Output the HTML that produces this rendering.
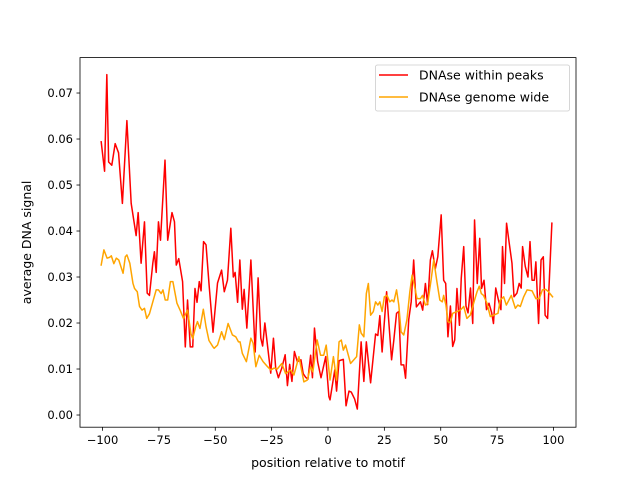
<!DOCTYPE html>
<html><head><meta charset="utf-8"><style>
html,body{margin:0;padding:0;background:#fff;}
svg{display:block;font-family:"DejaVu Sans","Liberation Sans",sans-serif;}
</style></head><body>
<svg id="chart" width="640" height="480" viewBox="0 0 640 480">
<rect x="0" y="0" width="640" height="480" fill="#fff"/>
<g id="plot"></g>
</svg>
<script>
const redPos=[-100.6,-99.1,-98.1,-97.3,-95.9,-94.4,-92.9,-91.2,-89.2,-87.3,-85.1,-84.2,-82.9,-81.4,-80.2,-79.2,-77.7,-77,-76.2,-75.2,-74.3,-72.3,-71.1,-69.2,-68.1,-67.3,-66.2,-64.5,-63.3,-62.3,-61.1,-60,-59,-58.1,-57.1,-56.3,-55.2,-54.1,-52.7,-51,-49,-47.2,-46,-44.6,-43.1,-42,-41.2,-40.1,-39.1,-38,-37.2,-36,-34.2,-32.3,-31,-29.8,-29,-28,-25.4,-24.2,-23.2,-22,-20.5,-19,-18,-17,-16,-14.9,-13.6,-12,-11,-9.9,-8.9,-7.7,-6.9,-6,-4.6,-3.1,-1,0.4,0.9,3,3.8,4.9,6.8,8,9.3,10.3,11.8,13,14.7,15.9,17,18.9,21.1,22.1,23,24,26,28.2,29.2,30.4,31.4,32.4,33.6,34.4,35.8,36.9,38,39.2,41,42,43.2,44.2,45.4,46.3,47.6,48.7,50.2,51.3,52.2,53.2,54.3,55.3,56.2,57.2,58.3,59.1,60.2,61.2,62.1,63.2,64.2,65,66.2,67.3,68.1,69.2,70.3,71.4,72.6,73.4,74.4,75.6,76.7,77.4,78.3,79.2,80.4,81.6,82.5,83.8,84.8,85.7,86.3,87.5,88.7,89.6,90.5,91.5,92.2,93.4,94.5,95.5,96.3,97.4,99.3];
const redVals=[0.0594,0.053,0.074,0.055,0.0543,0.059,0.057,0.046,0.064,0.046,0.039,0.044,0.033,0.042,0.0265,0.026,0.033,0.0355,0.031,0.042,0.038,0.0554,0.038,0.044,0.042,0.0326,0.034,0.029,0.0148,0.025,0.0148,0.0148,0.0275,0.0245,0.029,0.027,0.0377,0.037,0.028,0.018,0.0287,0.0315,0.0268,0.0293,0.0406,0.030,0.031,0.0245,0.0337,0.023,0.0273,0.0189,0.0337,0.0137,0.0298,0.0167,0.015,0.020,0.0091,0.0167,0.0102,0.0081,0.0102,0.0131,0.0064,0.011,0.0073,0.0138,0.0116,0.012,0.009,0.0082,0.0078,0.013,0.0081,0.0189,0.0116,0.0081,0.0127,0.004,0.0033,0.0098,0.0052,0.0118,0.0121,0.002,0.0052,0.005,0.0035,0.0013,0.0159,0.0073,0.0159,0.007,0.0176,0.0173,0.0216,0.0137,0.0268,0.012,0.0163,0.0221,0.0225,0.0109,0.0109,0.008,0.0207,0.0246,0.0337,0.0235,0.0246,0.0228,0.0286,0.024,0.0337,0.0357,0.0318,0.0344,0.0435,0.0293,0.0286,0.017,0.0237,0.0149,0.0163,0.0275,0.0195,0.0297,0.0366,0.0237,0.0222,0.0276,0.0199,0.0424,0.0286,0.0384,0.0275,0.0293,0.0229,0.0243,0.0222,0.0199,0.0276,0.025,0.0229,0.0366,0.0286,0.0417,0.0373,0.033,0.0257,0.0265,0.0286,0.0276,0.0366,0.0323,0.03,0.0377,0.0293,0.0293,0.0333,0.0199,0.0337,0.0344,0.0217,0.021,0.0417];
const orangePos=[-100.6,-99.4,-98,-96.8,-96.1,-95,-93.9,-92.8,-90.9,-89.9,-89.2,-87.9,-86.5,-85.8,-84.6,-83.6,-82.5,-81.4,-80.4,-79.2,-77.7,-76.2,-75.2,-74,-73.2,-72.2,-71.1,-69.9,-68.8,-67,-65.6,-64.1,-62.3,-60.8,-60,-58.7,-57.9,-56.8,-55.3,-54.1,-52.8,-51,-50.5,-49,-47.2,-46,-44.3,-42.4,-40.9,-39.7,-39,-38,-36.2,-34.2,-33.2,-32,-30.5,-28.8,-26.8,-25.4,-23.9,-22.5,-20.5,-18.8,-16.6,-15.1,-12.9,-10.7,-9.2,-7.7,-6.7,-4.8,-3.3,-1.9,-0.8,0.9,2.4,3.8,4.9,5.9,6.8,7.8,10,12.7,13.9,14.7,15.9,17,17.9,18.9,20.1,21.1,22.1,23,24,25,26.2,27.4,28.4,29.2,30.4,31.4,32.4,33.6,35,36.3,37.3,38.3,39.5,41,41.9,43.2,44.2,45.7,46.9,48.3,49.6,50.7,51.3,52.3,53.2,54.3,55.3,57.2,58.7,60.2,61.6,63.1,65,66.1,67.1,68,69,70.5,72,73.4,75.4,76.4,77.9,79.1,81.3,83.1,84.2,85.3,86.8,88.3,90.5,92.2,93.7,95.1,96.6,97.8,99.6];
const orangeVals=[0.0326,0.0359,0.0341,0.0343,0.0346,0.0329,0.0341,0.0337,0.0308,0.0344,0.0348,0.033,0.0286,0.0275,0.0268,0.0236,0.0228,0.0232,0.021,0.022,0.0246,0.0272,0.0272,0.0264,0.0272,0.025,0.025,0.029,0.029,0.0243,0.0228,0.021,0.0228,0.0177,0.0166,0.0192,0.0203,0.0188,0.023,0.0192,0.0162,0.0148,0.0145,0.0152,0.0181,0.0164,0.0199,0.0174,0.017,0.0159,0.0159,0.0134,0.0116,0.0167,0.0156,0.0105,0.013,0.0116,0.0105,0.0098,0.0102,0.01,0.0112,0.009,0.0098,0.0087,0.0127,0.0072,0.0076,0.0105,0.0094,0.0163,0.013,0.013,0.0152,0.0076,0.0127,0.0076,0.0159,0.0163,0.0141,0.0152,0.0112,0.0127,0.0196,0.0178,0.017,0.0264,0.0286,0.0217,0.0225,0.0246,0.0239,0.0246,0.0225,0.0257,0.026,0.0246,0.025,0.0246,0.0272,0.0239,0.0181,0.0174,0.0207,0.0268,0.0304,0.0282,0.0253,0.0253,0.026,0.0239,0.0242,0.0293,0.0337,0.029,0.025,0.0246,0.026,0.0239,0.0203,0.0201,0.0221,0.0225,0.0228,0.0236,0.021,0.0217,0.025,0.0268,0.028,0.0264,0.026,0.0243,0.0214,0.0217,0.0221,0.025,0.0257,0.0239,0.026,0.0232,0.0239,0.0236,0.0257,0.0272,0.027,0.0253,0.0253,0.0272,0.0273,0.0268,0.0257];
const xTicks=[-100,-75,-50,-25,0,25,50,75,100];
const yTicks=[0.00,0.01,0.02,0.03,0.04,0.05,0.06,0.07];
const seriesNames=["DNAse within peaks","DNAse genome wide"];

const NS="http://www.w3.org/2000/svg";
const L=80,R=576,T=57.6,B=427.2;
const xMin=-110,xMax=110,yMin=-0.00265,yMax=0.0777;
const xs=v=>L+(v-xMin)/(xMax-xMin)*(R-L);
const ys=v=>B-(v-yMin)/(yMax-yMin)*(B-T);
const g=document.getElementById('plot');
function mk(tag,attrs,parent){const e=document.createElementNS(NS,tag);for(const k in attrs)e.setAttribute(k,attrs[k]);(parent||g).appendChild(e);return e;}

function drawLine(pos,vals,color,name){
  const d=pos.map((p,i)=>(i?'L':'M')+xs(p).toFixed(2)+','+ys(vals[i]).toFixed(2)).join(' ');
  const p=mk('path',{d:d,fill:'none',stroke:color,'stroke-width':1.5,'stroke-linejoin':'round','stroke-linecap':'square'});
  
  
}
drawLine(redPos,redVals,'#ff0000','series-within-peaks');
drawLine(orangePos,orangeVals,'#ffa500','series-genome-wide');

const frame=mk('rect',{x:L,y:T,width:R-L,height:B-T,fill:'none',stroke:'#000','stroke-width':0.8});



xTicks.forEach(t=>{
  const x=xs(t);
  const tk=mk('line',{x1:x,x2:x,y1:B,y2:B+3.5,stroke:'#000','stroke-width':0.8});
  
  
  const tx=mk('text',{x:x,y:B+17,'text-anchor':'middle','font-size':'11.5px',fill:'#000'});
  tx.textContent=(t<0?'\u2212'+(-t):String(t));
  
  
});
yTicks.forEach(t=>{
  const y=ys(t);
  const tk=mk('line',{x1:L-3.5,x2:L,y1:y,y2:y,stroke:'#000','stroke-width':0.8});
  
  
  const tx=mk('text',{x:L-7,y:y+4,'text-anchor':'end','font-size':'11.5px',fill:'#000'});
  tx.textContent=t.toFixed(2);
  
  
});
const xl=mk('text',{x:(L+R)/2,y:467,'text-anchor':'middle','font-size':'12.5px',fill:'#000'});
xl.textContent='position relative to motif';


const yl=mk('text',{x:0,y:0,'text-anchor':'middle','font-size':'12.5px',fill:'#000',transform:'translate(31,'+((T+B)/2)+') rotate(-90)'});
yl.textContent='average DNA signal';



const lg=mk('g',{});


mk('rect',{x:375.5,y:65,width:194,height:46,rx:2,fill:'#fff','fill-opacity':0.8,stroke:'#ccc','stroke-width':0.8},lg);
const colors=['#ff0000','#ffa500'];
seriesNames.forEach((n,i)=>{
  const y=75+i*22;
  const ln=mk('line',{x1:379,x2:408,y1:y,y2:y,stroke:colors[i],'stroke-width':1.5},lg);
  
  
  const tx=mk('text',{x:419,y:y+4.5,'font-size':'12.5px',fill:'#000'},lg);
  tx.textContent=n;
  
  
});
</script>
</body></html>
